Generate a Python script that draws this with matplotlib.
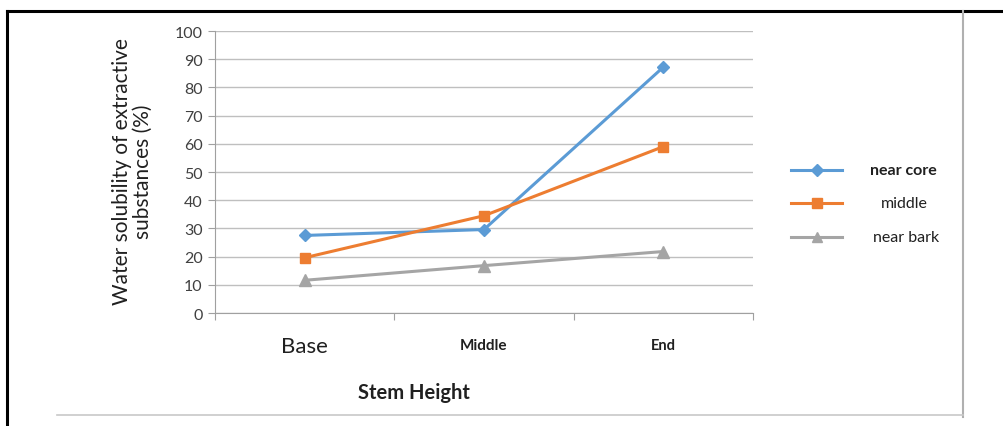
import matplotlib
matplotlib.use("Agg")
import matplotlib.pyplot as plt
from matplotlib.lines import Line2D

categories = ["Base", "Middle", "End"]
near_core = [27.5, 29.6, 87.2]
middle = [19.6, 34.5, 59.0]
near_bark = [11.6, 16.8, 21.8]
yticks = list(range(0, 101, 10))

plt.rcParams['font.family'] = ['Lato', 'DejaVu Sans']

fig = plt.figure(figsize=(10.04, 4.27), dpi=100)
ax = fig.add_axes([215/1004, 1-314/427, (753-215)/1004, (314-32)/427])

x = [0.5, 1.5, 2.5]
ax.plot(x, near_core, color='#5B9BD5', lw=2.2, marker='D', ms=6.5, label='near core', zorder=3)
ax.plot(x, middle, color='#ED7D31', lw=2.2, marker='s', ms=7.5, label='middle', zorder=3)
ax.plot(x, near_bark, color='#A5A5A5', lw=2.2, marker='^', ms=8, label='near bark', zorder=3)

ax.set_xlim(0, 3)
ax.set_ylim(0, 100)
ax.set_yticks(yticks)
ax.set_yticklabels([str(v) for v in yticks], fontsize=11.5, color='#404040')
ax.yaxis.grid(True, color='#BFBFBF', lw=1)
ax.set_axisbelow(True)
ax.set_xticks([0, 1, 2, 3])
ax.set_xticklabels([])
ax.tick_params(axis='x', length=5, color='#A0A0A0', direction='out')
ax.tick_params(axis='y', length=5, color='#A0A0A0', direction='out', pad=4)
for s in ['top', 'right']:
    ax.spines[s].set_visible(False)
for s in ['left', 'bottom']:
    ax.spines[s].set_color('#A0A0A0')

# category labels
ax.text(x[0], -11.8, categories[0], ha='center', va='center', fontsize=16, color='#202020')
ax.text(x[1], -11.5, categories[1], ha='center', va='center', fontsize=11, fontweight='bold', color='#202020')
ax.text(x[2], -11.5, categories[2], ha='center', va='center', fontsize=10.5, fontweight='bold', color='#202020')

fig.text(414/1004, 1-393/427, "Stem Height", ha='center', va='center', fontsize=14.5, fontweight='bold', color='#202020')
fig.text(132/1004, 1-172/427, "Water solubility of extractive\nsubstances (%)", ha='center', va='center',
         rotation=90, fontsize=15, color='#202020', linespacing=1.05)

# legend
entries = [("near core", '#5B9BD5', 'D', 6, 171, 'bold', 903),
           ("middle", '#ED7D31', 's', 7, 204, 'normal', 904),
           ("near bark", '#A5A5A5', '^', 7.5, 238, 'normal', 906)]
for lab, c, m, ms, yy, fw, xx in entries:
    yf = 1 - yy/427
    fig.add_artist(Line2D([791/1004, 842/1004], [yf, yf], color=c, lw=2.2, transform=fig.transFigure))
    fig.add_artist(Line2D([816.5/1004], [yf], color=c, marker=m, ms=ms, lw=0, transform=fig.transFigure))
    fig.text(xx/1004, yf, lab, ha='center', va='center', fontsize=11.5, fontweight=fw, color='#202020')

# frame lines
fig.add_artist(Line2D([7/1004, 1], [1-12/427, 1-12/427], color='black', lw=2.2, transform=fig.transFigure))
fig.add_artist(Line2D([7/1004, 7/1004], [1-12/427, 0], color='black', lw=2.2, transform=fig.transFigure))
fig.add_artist(Line2D([963/1004, 963/1004], [1-12/427, 1-418/427], color='#B0B0B0', lw=1.5, transform=fig.transFigure))
fig.add_artist(Line2D([57/1004, 963/1004], [1-416/427, 1-416/427], color='#C8C8C8', lw=1.2, transform=fig.transFigure))

fig.savefig("out.png", dpi=100)
